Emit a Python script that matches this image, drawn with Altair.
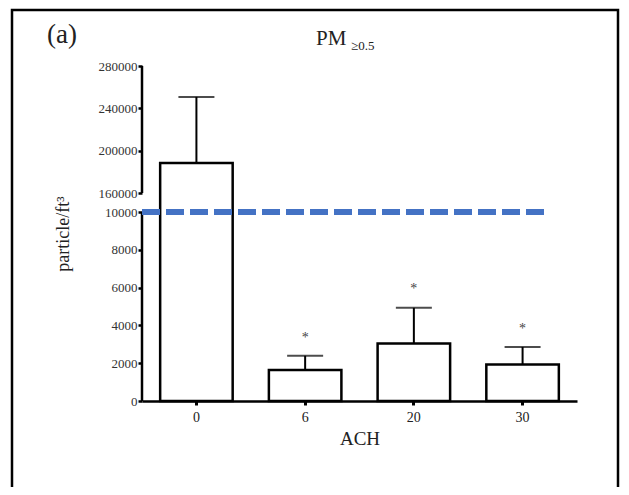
import altair as alt
import pandas as pd

categories = ["0", "6", "20", "30"]
means = [188400, 1640, 3040, 1930]
errors = [62400, 750, 1890, 930]
star_y = [None, 3340, 5930, 3820]

y_ticks = [0, 2000, 4000, 6000, 8000, 10000, 160000, 200000, 240000, 280000]
threshold = 10000

df = pd.DataFrame({
    "ACH": categories,
    "mean": means,
    "upper": [m + e for m, e in zip(means, errors)],
    "star": star_y,
})
stars = df.dropna(subset=["star"])

W, H = 435, 335
yscale = alt.Scale(domain=[0, 10000, 160000, 280000], range=[H, 146, 127, 0], nice=False, zero=False)
xscale = alt.Scale(domain=categories, paddingInner=0.333, paddingOuter=0.167)

FONT = "Liberation Serif"

x_enc = alt.X("ACH:N", scale=xscale, sort=categories,
              axis=alt.Axis(title="ACH", labelAngle=0, domain=True, domainColor="black", domainWidth=2.5,
                            tickColor="black", tickWidth=3, tickSize=4, labelFont=FONT, labelFontSize=14,
                            labelColor="#222", titleFont=FONT, titleFontSize=19, titleFontWeight="normal",
                            titleColor="#222", titlePadding=5, labelPadding=5))

y_axis = alt.Axis(values=y_ticks, tickCount=len(y_ticks) + 5, format="d", title="particle/ft³",
                  grid=False, domain=False, labelOverlap=False, labelBound=False,
                  tickColor="black", tickWidth=2.5, tickSize=4, labelFont=FONT, labelFontSize=13,
                  labelColor="#333", titleFont=FONT, titleFontSize=18, titleFontWeight="normal",
                  titleColor="#222", titlePadding=26, labelPadding=1)

base = alt.Chart(df)

bars = base.mark_bar(fill="white", stroke="black", strokeWidth=2.5, clip=False).encode(
    x=x_enc,
    y=alt.Y("mean:Q", scale=yscale, axis=y_axis),
)

err = base.mark_rule(color="black", strokeWidth=2).encode(
    x=alt.X("ACH:N", scale=xscale, sort=categories),
    y=alt.Y("mean:Q", scale=yscale),
    y2="upper:Q",
)
caps = base.mark_tick(color="black", thickness=2, size=36, orient="horizontal").encode(
    x=alt.X("ACH:N", scale=xscale, sort=categories),
    y=alt.Y("upper:Q", scale=yscale),
)
star_marks = alt.Chart(stars).mark_text(text="*", font=FONT, fontSize=14, color="#444").encode(
    x=alt.X("ACH:N", scale=xscale, sort=categories),
    y=alt.Y("star:Q", scale=yscale),
)

axis_segs = pd.DataFrame({"lo": [0, 160000], "hi": [10000, 280000]})
axis_lines = alt.Chart(axis_segs).mark_rule(color="black", strokeWidth=2.5).encode(
    x=alt.value(0),
    y=alt.Y("lo:Q", scale=yscale),
    y2="hi:Q",
)

thr = alt.Chart(pd.DataFrame({"v": [threshold]})).mark_rule(
    color="#4472C4", strokeWidth=6, strokeDash=[18, 6]
).encode(y=alt.Y("v:Q", scale=yscale), x=alt.value(0), x2=alt.value(404))

frame = alt.Chart(pd.DataFrame({"a": [0]})).mark_rect(
    fill=None, stroke="black", strokeWidth=2.5, clip=False
).encode(x=alt.value(-130), x2=alt.value(476), y=alt.value(-56), y2=alt.value(470))

title_main = alt.Chart(pd.DataFrame({"t": ["PM"]})).mark_text(
    font=FONT, fontSize=21, align="left", baseline="alphabetic", color="#222"
).encode(text="t:N", x=alt.value(174), y=alt.value(-21))
title_sub = alt.Chart(pd.DataFrame({"t": ["≥0.5"]})).mark_text(
    font=FONT, fontSize=13, align="left", baseline="alphabetic", color="#222"
).encode(text="t:N", x=alt.value(209), y=alt.value(-16))
panel = alt.Chart(pd.DataFrame({"t": ["(a)"]})).mark_text(
    font=FONT, fontSize=27, align="left", baseline="alphabetic", color="#222"
).encode(text="t:N", x=alt.value(-95), y=alt.value(-23))

chart = alt.layer(
    frame, bars, err, caps, star_marks, axis_lines, thr, title_main, title_sub, panel
).properties(
    width=W, height=H,
    autosize=alt.AutoSizeParams(type="none"),
    padding={"left": 134, "top": 58, "right": 44, "bottom": 86},
).configure_view(stroke=None)

chart.save("out.html", embed_options={"renderer": "svg", "actions": False})
